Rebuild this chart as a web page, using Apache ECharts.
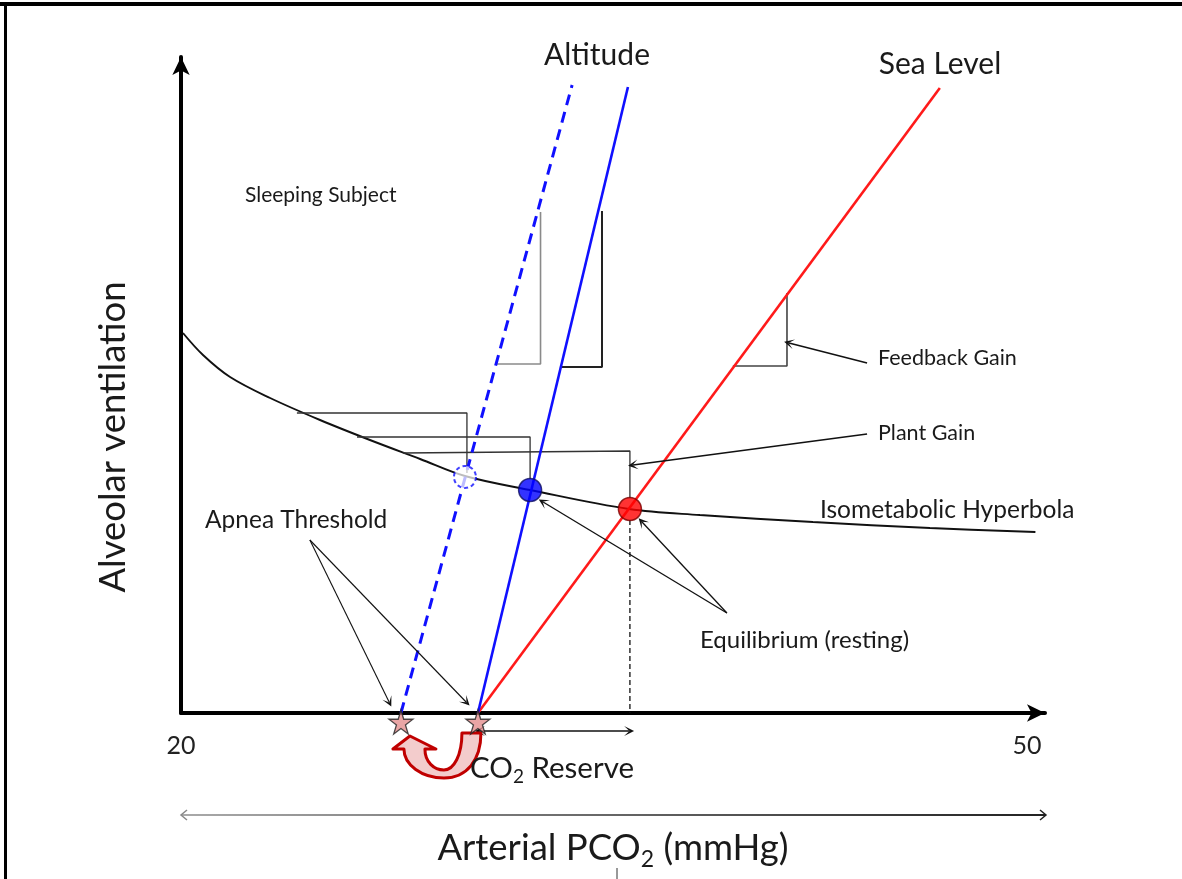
<!DOCTYPE html>
<html><head><meta charset="utf-8">
<script src="https://cdn.jsdelivr.net/npm/echarts/dist/echarts.min.js"></script>
<style>html,body{margin:0;padding:0;background:#fff}#c{width:1182px;height:879px}</style>
</head><body><div id="c"></div>
<script>
// ---- data (x: arterial PCO2 mmHg, y: alveolar ventilation, arbitrary units) ----
const xTickLabels = [20, 50];
const seaLevel = [[30.53, 0], [46.91, 62.5]];
const altitude = [[30.53, 0], [35.85, 62.6]];
const altitudeSleep = [[27.80, 0], [33.87, 62.8]];
const hyperbola = [[20.07,38.0],[20.78,35.8],[21.74,33.6],[23.16,31.5],[24.93,29.3],[26.70,27.3],[28.48,25.4],[30.07,23.7],[32.38,22.3],[35.89,20.4],[38.40,19.8],[42.41,19.1],[46.56,18.5],[50.30,18.1]];
const eqSeaLevel = [35.92, 20.4];
const eqAltitude = [32.38, 22.3];
const eqSleep = [30.07, 23.6];
const apneaThresholds = [[27.80, -0.9], [30.53, -0.9]];
const triSleep = [[31.21,34.9],[32.75,34.9],[32.75,50.1]];
const triAltitude = [[33.51,34.6],[34.93,34.6],[34.93,50.2]];
const triSea = [[39.57,34.7],[41.49,34.7],[41.49,42.0]];
const boxSleep = [[24.11,30.0],[30.14,30.0],[30.14,24.0]];
const boxAltitude = [[26.24,27.6],[32.38,27.6],[32.38,23.4]];
const boxSea = [[27.87,26.0],[35.92,26.2],[35.92,21.5]];
const dropLine = [[35.92,19.3],[35.92,0]];
const co2Reserve = [[30.6,-1.8],[35.89,-1.8]];
const arrowsFeedback = [[[44.33,35.0],[41.56,37.0]]];
const arrowsPlant = [[[44.33,27.9],[36.03,24.8]]];
const arrowsApnea = [[[24.57,17.3],[27.38,1.1]],[[24.57,17.3],[30.11,1.1]]];
const arrowsEquil = [[[39.36,10.0],[32.84,21.1]],[[39.36,10.0],[36.35,19.1]]];

const FONT = 'Lato';
const chevron = 'path://M5,0 L10,11 L5,5 L0,11 Z';
const star = 'path://M50,0 L61,35 L98,35 L68,57 L79,91 L50,70 L21,91 L32,57 L2,35 L39,35 Z';

const chart = echarts.init(document.getElementById('c'), null, {renderer: 'canvas'});

function poly(name, data, color, width, type, smooth) {
  return {name, type: 'line', data, symbol: 'none', silent: true, clip: false, z: 3, smooth: smooth || false,
    lineStyle: {color, width, type: type || 'solid'}};
}
function arrows(name, pairs, width, sym) {
  return {name, type: 'lines', coordinateSystem: 'cartesian2d', clip: false, silent: true, z: 4,
    symbol: sym || ['none', chevron], symbolSize: 10,
    lineStyle: {color: '#111', width, opacity: 1, curveness: 0},
    data: pairs.map(p => ({coords: p}))};
}

function curvedArrowItem(params, api) {
  const R = api.coord([api.value(0), api.value(1)]);
  const rx = R[0], ry = R[1];
  const d = [
    'M', rx+3, ry+11,
    'C', rx+3, ry+38, rx-11, ry+56, rx-34, ry+56,
    'C', rx-56, ry+56, rx-74, ry+43, rx-74, ry+27,
    'L', rx-85, ry+27, 'L', rx-68, ry+14, 'L', rx-42, ry+27, 'L', rx-53, ry+27,
    'C', rx-53, ry+40, rx-44, ry+48, rx-34, ry+48,
    'C', rx-24, ry+48, rx-16, ry+33, rx-16, ry+11, 'Z'].join(' ');
  return {type: 'path', shape: {pathData: d},
    style: {fill: '#f3cccc', stroke: '#c00000', lineWidth: 3, lineJoin: 'round'}};
}

function txt(text, x, y, size, opts) {
  return Object.assign({type: 'text', x, y, z: 20, silent: true,
    style: {text, fontFamily: FONT, fontSize: size, fill: '#1a1a1a', textAlign: 'left', textVerticalAlign: 'middle'}}, opts || {});
}
function center(el) { el.style.textAlign = 'center'; return el; }
function subText(parts, x, y, big, small, extra) {
  return Object.assign({type: 'text', x, y, z: 20, silent: true,
    style: {text: '{m|' + parts[0] + '}{s|' + parts[1] + '}{m|' + parts[2] + '}',
      fontFamily: FONT, fontSize: big, fill: '#1a1a1a', textAlign: 'center', textVerticalAlign: 'middle',
      rich: {
        m: {fontFamily: FONT, fontSize: big, lineHeight: Math.round(big * 1.25), fill: '#1a1a1a', verticalAlign: 'middle'},
        s: {fontFamily: FONT, fontSize: small, lineHeight: small, fill: '#1a1a1a', verticalAlign: 'bottom'}
      }}}, extra || {});
}

chart.setOption({
  animation: false,
  backgroundColor: '#fff',
  grid: {left: 181, top: 57, right: 137, bottom: 166, containLabel: false},
  xAxis: {type: 'value', min: 20, max: 50.64, interval: 10,
    axisLine: {show: true, onZero: false, symbol: ['none', 'arrow'], symbolSize: [13, 18],
      lineStyle: {color: '#000', width: 4}},
    axisTick: {show: false}, splitLine: {show: false},
    axisLabel: {show: true, margin: 20, fontFamily: FONT, fontSize: 25, color: '#222',
      formatter: v => xTickLabels.indexOf(v) >= 0 ? String(v) : ''}},
  yAxis: {type: 'value', min: 0, max: 65.6,
    axisLine: {show: true, onZero: false, symbol: ['none', 'arrow'], symbolSize: [13, 18],
      lineStyle: {color: '#000', width: 4}},
    axisTick: {show: false}, splitLine: {show: false}, axisLabel: {show: false}},
  series: [
    poly('Isometabolic Hyperbola', hyperbola, '#111', 1.9, null, 0.35),
    poly('Feedback gain (sleep)', triSleep, '#8a8a8a', 1.6),
    poly('Feedback gain (altitude)', triAltitude, '#222', 2),
    poly('Feedback gain (sea level)', triSea, '#444', 1.6),
    poly('Plant gain (sleep)', boxSleep, '#333', 1.3),
    poly('Plant gain (altitude)', boxAltitude, '#333', 1.3),
    poly('Plant gain (sea level)', boxSea, '#333', 1.3),
    poly('PCO2 drop', dropLine, '#111', 1.3, [5, 3]),
    poly('Sea Level', seaLevel, '#ff1a1a', 2.6),
    poly('Altitude', altitude, '#1010ff', 2.6),
    poly('Altitude (sleep)', altitudeSleep, '#1010ff', 3, [11, 7]),
    arrows('Feedback arrow', arrowsFeedback, 1.6),
    arrows('Plant arrow', arrowsPlant, 1.6),
    arrows('Apnea arrows', arrowsApnea, 1.1),
    arrows('Equilibrium arrows', arrowsEquil, 1.3),
    arrows('CO2 reserve', [co2Reserve], 1.6, [chevron, chevron]),
    {name: 'Equilibrium sleep', type: 'scatter', clip: false, z: 6, silent: true, data: [eqSleep],
      symbol: 'circle', symbolSize: 22,
      itemStyle: {color: 'rgba(255,255,255,0.9)', borderColor: '#1010ff', borderWidth: 2, borderType: [4, 3]}},
    {name: 'Equilibrium altitude', type: 'scatter', clip: false, z: 6, silent: true, data: [eqAltitude],
      symbol: 'circle', symbolSize: 23,
      itemStyle: {color: '#0000ff', borderColor: '#101060', borderWidth: 1.5}},
    {name: 'Equilibrium sea level', type: 'scatter', clip: false, z: 6, silent: true, data: [eqSeaLevel],
      symbol: 'circle', symbolSize: 23,
      itemStyle: {color: '#ff0000', borderColor: '#7a0000', borderWidth: 1.5}},
    {name: 'Apnea shift', type: 'custom', coordinateSystem: 'cartesian2d', clip: false, z: 8, silent: true,
      data: [apneaThresholds[1]], renderItem: curvedArrowItem},
    {name: 'Apnea threshold', type: 'scatter', clip: false, z: 9, silent: true, data: apneaThresholds,
      symbol: star, symbolSize: 24,
      itemStyle: {color: '#e38f8f', borderColor: '#222', borderWidth: 1.3}}
  ],
  graphic: [
    {type: 'rect', shape: {x: 0, y: 2, width: 1182, height: 4}, style: {fill: '#000'}, silent: true},
    {type: 'rect', shape: {x: 4, y: 2, width: 3, height: 877}, style: {fill: '#000'}, silent: true},
    center(txt('Altitude', 597, 55, 30)),
    center(txt('Sea Level', 940, 64, 30)),
    txt('Sleeping Subject', 245, 195, 21),
    txt('Feedback Gain', 878, 358, 21.5),
    txt('Plant Gain', 878, 433, 21.5),
    txt('Isometabolic Hyperbola', 820, 510, 24.5),
    txt('Apnea Threshold', 205, 520, 24.5),
    txt('Equilibrium (resting)', 700, 640, 24),
    subText(['CO', '2', ' Reserve'], 552, 768, 29.5, 19),
    subText(['Arterial PCO', '2', ' (mmHg)'], 613, 848, 36.5, 23),
    {type: 'text', x: 113, y: 437, rotation: Math.PI / 2, z: 20, silent: true,
      style: {text: 'Alveolar ventilation', fontFamily: FONT, fontSize: 36.5, fill: '#1a1a1a', textAlign: 'center', textVerticalAlign: 'middle'}},
    {type: 'line', silent: true, shape: {x1: 181, y1: 815, x2: 1046, y2: 815},
      style: {lineWidth: 2, stroke: {type: 'linear', x: 0, y: 0, x2: 1, y2: 0, colorStops: [{offset: 0, color: '#aaa'}, {offset: 1, color: '#222'}]}}},
    {type: 'polyline', silent: true, shape: {points: [[187, 810], [181, 815], [187, 820]]}, style: {stroke: '#888', lineWidth: 1.5, fill: null}},
    {type: 'polyline', silent: true, shape: {points: [[1040, 810], [1046, 815], [1040, 820]]}, style: {stroke: '#222', lineWidth: 1.5, fill: null}},
    {type: 'line', silent: true, shape: {x1: 617, y1: 868, x2: 617, y2: 879}, style: {stroke: '#333', lineWidth: 1}}
  ]
});
</script></body></html>
